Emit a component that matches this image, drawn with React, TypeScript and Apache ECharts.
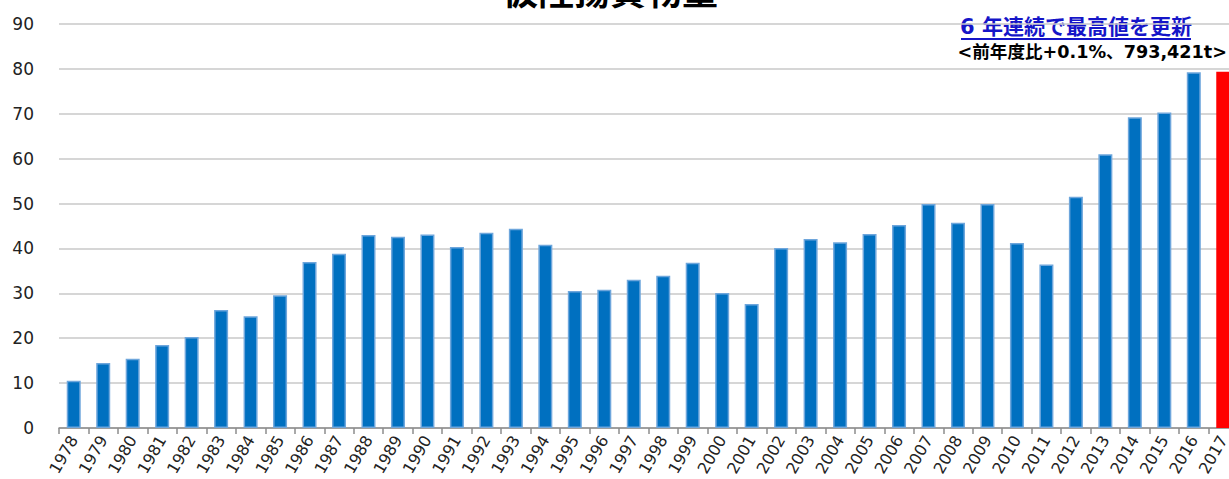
import React, { useEffect, useRef } from "react";
import * as echarts from "echarts";

const years = [
  "1978","1979","1980","1981","1982","1983","1984","1985","1986","1987",
  "1988","1989","1990","1991","1992","1993","1994","1995","1996","1997",
  "1998","1999","2000","2001","2002","2003","2004","2005","2006","2007",
  "2008","2009","2010","2011","2012","2013","2014","2015","2016","2017",
];
const cargo = [
  10.5, 14.5, 15.4, 18.5, 20.3, 26.3, 24.9, 29.6, 37.0, 38.8,
  43.0, 42.6, 43.1, 40.3, 43.5, 44.4, 40.8, 30.5, 30.8, 33.0,
  33.9, 36.8, 30.1, 27.6, 40.1, 42.1, 41.4, 43.2, 45.2, 49.9,
  45.7, 49.9, 41.2, 36.4, 51.5, 61.0, 69.2, 70.3, 79.26, 79.34,
];
const highlightIndex = 39;
const titleText = "仮陸揚貨物量";
const noteLine1 = "6 年連続で最高値を更新";
const noteLine2 = "<前年度比+0.1%、793,421t>";

export default function App() {
  const ref = useRef<HTMLDivElement>(null);
  useEffect(() => {
    document.body.style.margin = "0";
    document.body.style.overflow = "hidden";
    const chart = echarts.init(ref.current!, undefined, { renderer: "svg" });
    const latin = "DejaVu Sans, Noto Sans CJK JP, sans-serif";
    chart.setOption({
      animation: false,
      backgroundColor: "#ffffff",
      grid: { left: 59, right: 0, top: 24, bottom: 51, containLabel: false },
      xAxis: {
        type: "category",
        data: years,
        boundaryGap: true,
        axisLine: { show: true, lineStyle: { color: "#8c8c8c", width: 1.5 } },
        axisTick: { show: true, length: 6, alignWithLabel: false, lineStyle: { color: "#8c8c8c", width: 1.5 } },
        axisLabel: {
          interval: 0,
          rotate: 60,
          fontSize: 16,
          color: "#222",
          fontFamily: latin,
          margin: 9,
        },
      },
      yAxis: {
        type: "value",
        min: 0,
        max: 90,
        interval: 10,
        axisLine: { show: false },
        axisTick: { show: false },
        axisLabel: { fontSize: 17, color: "#222", fontFamily: latin, margin: 25 },
        splitLine: { lineStyle: { color: "#c8c8c8", width: 1.5 } },
      },
      series: [
        {
          type: "bar",
          data: cargo.map((v, i) =>
            i === highlightIndex
              ? { value: v, itemStyle: { color: "#ff0000", borderWidth: 0 } }
              : v
          ),
          barWidth: 14,
          itemStyle: { color: "#0070c0", borderColor: "#6ea6dc", borderWidth: 1.5 },
        },
      ],
      graphic: [
        {
          type: "text",
          x: 610,
          y: 7,
          style: {
            text: titleText,
            fontSize: 36,
            fontWeight: "bold",
            fontFamily: "Noto Sans CJK JP, sans-serif",
            fill: "#000",
            textAlign: "center",
            textVerticalAlign: "bottom",
          },
        },
        {
          type: "text",
          x: 1076,
          y: 27,
          style: {
            text: noteLine1,
            fontSize: 21,
            fontWeight: "bold",
            fontFamily: latin,
            fill: "#1515c8",
            textAlign: "center",
            textVerticalAlign: "middle",
          },
        },
        {
          type: "line",
          shape: { x1: 961, y1: 39, x2: 1191, y2: 39 },
          style: { stroke: "#1515c8", lineWidth: 2 },
        },
        {
          type: "text",
          x: 1227,
          y: 52,
          style: {
            text: noteLine2,
            fontSize: 17.6,
            fontWeight: "bold",
            fontFamily: latin,
            fill: "#000",
            textAlign: "right",
            textVerticalAlign: "middle",
          },
        },
      ],
    });
    return () => chart.dispose();
  }, []);
  return (
    <div style={{ width: 1229, height: 479, overflow: "hidden", position: "relative" }}>
      <div ref={ref} style={{ width: 1238, height: 479 }} />
    </div>
  );
}
